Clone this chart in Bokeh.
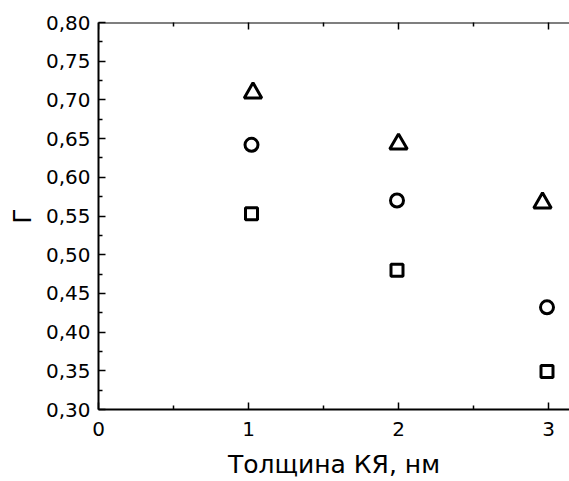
import math
from bokeh.plotting import figure
from bokeh.models import LinearAxis, FixedTicker, Range1d, Span
from bokeh.embed import file_html
from bokeh.resources import INLINE

# Data
x_square = [1.02, 1.99, 2.99]
y_square = [0.553, 0.480, 0.349]
x_circle = [1.02, 1.99, 2.99]
y_circle = [0.642, 0.570, 0.432]
x_triangle = [1.03, 2.00, 2.96]
y_triangle = [0.709, 0.643, 0.567]

x_ticks = [0, 1, 2, 3]
x_minor = [0.5, 1.5, 2.5]
x_labels = ["0", "1", "2", "3"]
y_ticks = [0.30, 0.35, 0.40, 0.45, 0.50, 0.55, 0.60, 0.65, 0.70, 0.75, 0.80]
y_minor = [0.325, 0.375, 0.425, 0.475, 0.525, 0.575, 0.625, 0.675, 0.725, 0.775]
y_labels = ["0,30", "0,35", "0,40", "0,45", "0,50", "0,55", "0,60", "0,65", "0,70", "0,75", "0,80"]

FONT = "DejaVu Sans"
y_top = y_ticks[-1]

p = figure(width=569, height=481, output_backend="svg", toolbar_location=None,
           x_range=Range1d(0, 3.14), y_range=Range1d(y_ticks[0], y_top),
           x_axis_location=None, y_axis_location=None,
           min_border_left=98, min_border_right=0, min_border_top=22, min_border_bottom=72)
p.outline_line_color = None
p.xgrid.visible = False
p.ygrid.visible = False
p.background_fill_color = "white"


def style(ax):
    ax.axis_line_width = 2
    ax.axis_line_color = "black"
    ax.major_tick_line_color = "black"
    ax.minor_tick_line_color = "black"
    ax.major_tick_line_width = 1.5
    ax.minor_tick_line_width = 1.5
    ax.major_tick_in = 7
    ax.major_tick_out = 0
    ax.minor_tick_in = 4
    ax.minor_tick_out = 0
    ax.major_label_text_font = FONT
    ax.major_label_text_color = "black"
    ax.major_label_text_font_size = "20px"
    ax.axis_label_text_font = FONT
    ax.axis_label_text_font_style = "normal"
    ax.axis_label_text_font_size = "25px"
    ax.axis_label_text_color = "black"


xb = LinearAxis(ticker=FixedTicker(ticks=x_ticks, minor_ticks=x_minor),
                major_label_overrides=dict(zip(x_ticks, x_labels)),
                axis_label="Толщина КЯ, нм")
style(xb)
xb.major_label_standoff = 12
xb.axis_label_standoff = 11
p.add_layout(xb, "below")

yl = LinearAxis(ticker=FixedTicker(ticks=y_ticks, minor_ticks=y_minor),
                major_label_overrides=dict(zip(y_ticks, y_labels)),
                axis_label="Г")
style(yl)
yl.major_label_standoff = 8
yl.axis_label_standoff = 6
p.add_layout(yl, "left")

# top frame line with inward ticks (mirrored x axis, no labels)
p.add_layout(Span(location=y_top, dimension="width", line_color="black", line_width=2))
p.scatter(x_ticks, [y_top] * len(x_ticks), marker="dash", angle=math.pi / 2, size=14,
          line_color="black", line_width=1.5)
p.scatter(x_minor, [y_top] * len(x_minor), marker="dash", angle=math.pi / 2, size=8,
          line_color="black", line_width=1.5)

p.scatter(x_square, y_square, marker="square", size=12, fill_color=None,
          line_color="black", line_width=3)
p.scatter(x_circle, y_circle, marker="circle", size=13, fill_color=None,
          line_color="black", line_width=3)
p.scatter(x_triangle, y_triangle, marker="triangle", size=17.5, fill_color=None,
          line_color="black", line_width=3)

open("out.html", "w").write(file_html(p, INLINE))
